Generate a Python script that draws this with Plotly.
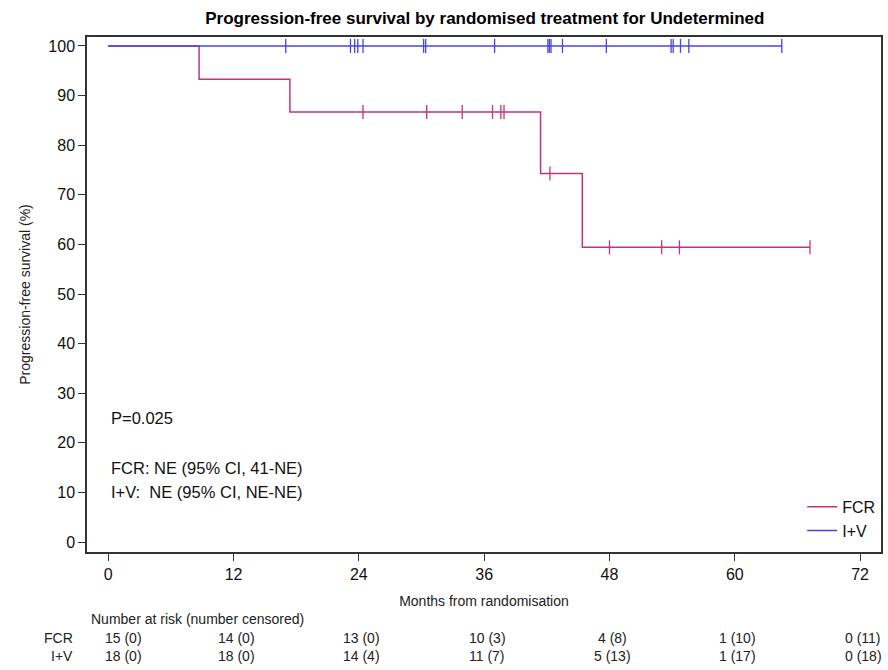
import plotly.graph_objects as go
import numpy as np

# ---- data ----
fcr_times = [0, 8.7, 17.4, 41.4, 45.4, 67.2]
fcr_surv = [100, 93.3, 86.7, 74.3, 59.4, 59.4]
iv_times = [0, 64.5]
iv_surv = [100, 100]

fcr_censor = [24.4, 30.5, 33.9, 36.8, 37.6, 37.9, 42.3, 48.0, 53.0, 54.7, 67.2]
iv_censor = [17.0, 23.2, 23.6, 23.9, 24.4, 30.2, 30.4, 37.0, 42.1, 42.25, 42.4,
             43.5, 47.7, 53.9, 54.1, 54.8, 55.6, 64.5]

risk_times = [0, 12, 24, 36, 48, 60, 72]
fcr_risk = ["15 (0)", "14 (0)", "13 (0)", "10 (3)", "4 (8)", "1 (10)", "0 (11)"]
iv_risk = ["18 (0)", "18 (0)", "14 (4)", "11 (7)", "5 (13)", "1 (17)", "0 (18)"]

x_ticks = [0, 12, 24, 36, 48, 60, 72]
y_ticks = [0, 10, 20, 30, 40, 50, 60, 70, 80, 90, 100]

FCR_COLOR = "#C2347F"
IV_COLOR = "#4646D8"
FONT = "Liberation Sans, Arial, sans-serif"


def step_value(times, surv, t):
    idx = np.searchsorted(np.array(times), t, side="right") - 1
    return surv[max(idx, 0)]


fig = go.Figure()
fig.add_trace(go.Scatter(x=fcr_times, y=fcr_surv, mode="lines", line_shape="hv",
                         line=dict(color=FCR_COLOR, width=1.5), name="FCR"))
fig.add_trace(go.Scatter(x=iv_times, y=iv_surv, mode="lines", line_shape="hv",
                         line=dict(color=IV_COLOR, width=1.5), name="I+V"))
fig.add_trace(go.Scatter(x=fcr_censor, y=[step_value(fcr_times, fcr_surv, t) for t in fcr_censor],
                         mode="markers", showlegend=False, hoverinfo="skip",
                         marker=dict(symbol="line-ns", size=10,
                                     line=dict(color=FCR_COLOR, width=1.3))))
fig.add_trace(go.Scatter(x=iv_censor, y=[step_value(iv_times, iv_surv, t) for t in iv_censor],
                         mode="markers", showlegend=False, hoverinfo="skip",
                         marker=dict(symbol="line-ns", size=10,
                                     line=dict(color=IV_COLOR, width=1.3))))

# in-plot text
for txt, yv in [("P=0.025", 25), ("FCR: NE (95% CI, 41-NE)", 15), ("I+V:  NE (95% CI, NE-NE)", 10)]:
    fig.add_annotation(x=0.1, y=yv, xref="x", yref="y", text=txt, showarrow=False,
                       xanchor="left", font=dict(size=16.5, color="#111"))

# number at risk table
TBL = dict(size=14, color="#222")
fig.add_annotation(x=-1.8, y=-0.13, xref="x", yref="paper", text="Number at risk (number censored)",
                   showarrow=False, xanchor="left", yanchor="middle", font=TBL)
for label, row, ypos in [("FCR", fcr_risk, -0.167), ("I+V", iv_risk, -0.202)]:
    fig.add_annotation(x=-0.015, y=ypos, xref="paper", yref="paper", text=label, showarrow=False,
                       xanchor="right", yanchor="middle", font=TBL)
    for i, (t, txt) in enumerate(zip(risk_times, row)):
        fig.add_annotation(x=(t - 0.5) if i == 0 else t + 0.3, y=ypos, xref="x", yref="paper",
                           text=txt, showarrow=False,
                           xanchor="left" if i == 0 else "center", yanchor="middle", font=TBL)

fig.update_layout(
    width=888, height=670,
    margin=dict(l=87, r=5, t=37, b=118),
    paper_bgcolor="white", plot_bgcolor="white",
    font=dict(family=FONT, color="#111"),
    title=dict(text="<b>Progression-free survival by randomised treatment for Undetermined</b>",
               x=0.546, xanchor="center", y=0.973, yanchor="middle",
               font=dict(size=17, color="#000")),
    showlegend=True,
    legend=dict(x=0.999, y=0.008, xanchor="right", yanchor="bottom",
                bgcolor="rgba(0,0,0,0)", font=dict(size=16, color="#111"),
                tracegroupgap=0),
)
fig.update_xaxes(range=[-2.03, 74.0], tickvals=x_ticks, ticks="outside", ticklen=7,
                 tickcolor="#333", showgrid=False, zeroline=False, showline=True,
                 linecolor="#333", linewidth=1.5, mirror=True,
                 tickfont=dict(size=16, color="#111"),
                 title=dict(text="Months from randomisation", font=dict(size=14, color="#222"),
                            standoff=14))
fig.update_yaxes(range=[-2.0, 101.8], tickvals=y_ticks, ticks="outside", ticklen=7,
                 tickcolor="#333", showgrid=False, zeroline=False, showline=True,
                 linecolor="#333", linewidth=1.5, mirror=True,
                 tickfont=dict(size=16, color="#111"),
                 title=dict(text="Progression-free survival (%)", font=dict(size=14, color="#222"),
                            standoff=14))

fig.write_html("out.html")
